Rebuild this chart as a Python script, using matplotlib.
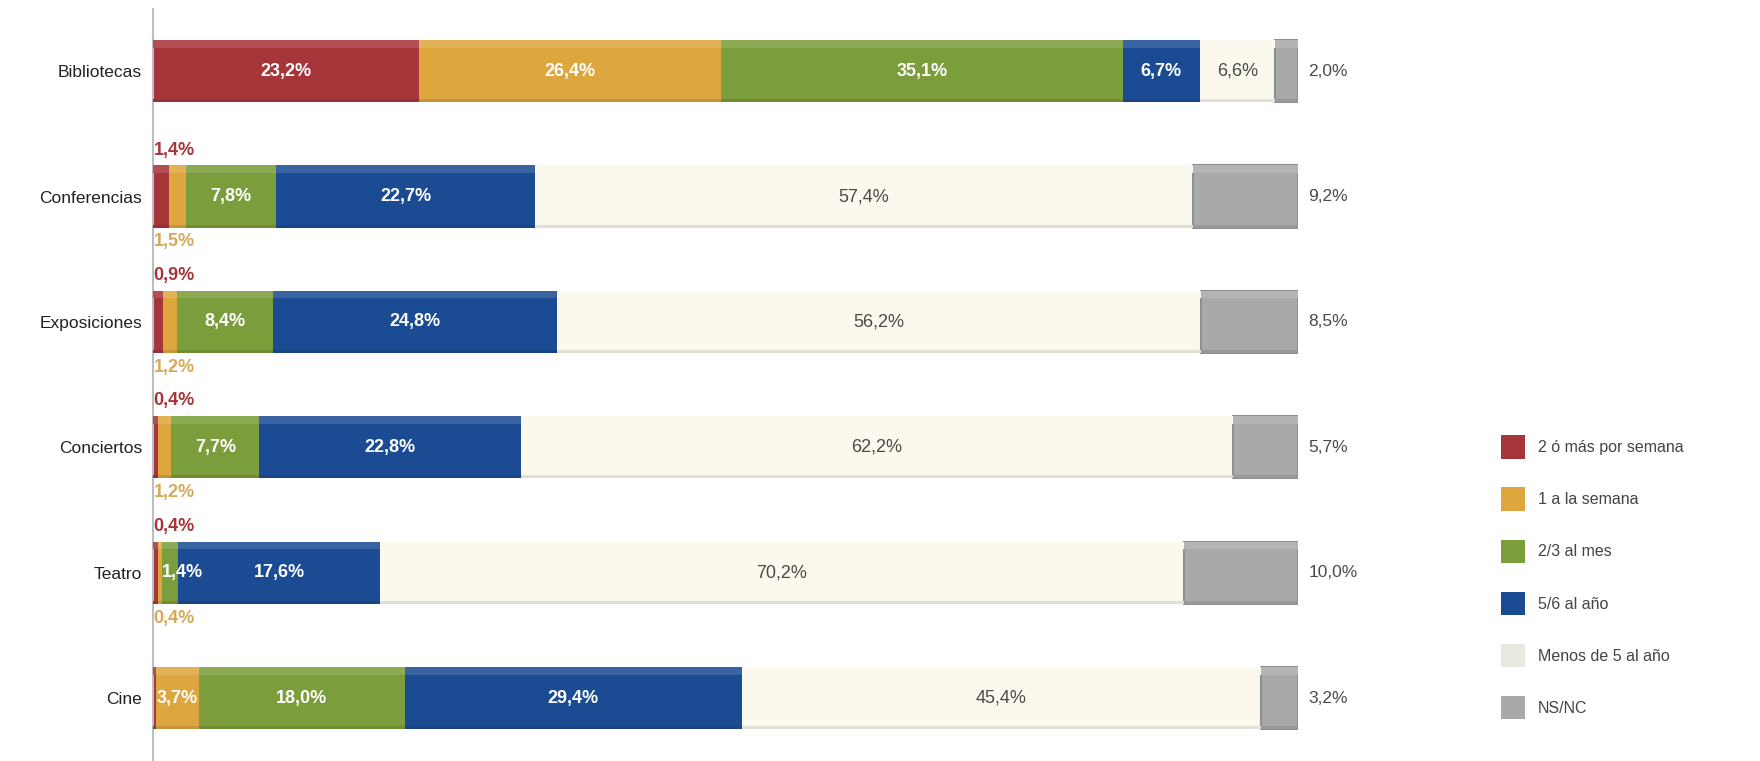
import numpy as np
import matplotlib
matplotlib.use("Agg")
import matplotlib.pyplot as plt
from matplotlib.patches import Patch
from matplotlib.colors import to_rgb

# data (percentages per frequency band)
categorias = ["Bibliotecas", "Conferencias", "Exposiciones", "Conciertos", "Teatro", "Cine"]
series = ["2 ó más por semana", "1 a la semana", "2/3 al mes", "5/6 al año",
          "Menos de 5 al año", "NS/NC"]
dos_o_mas = [23.2, 1.4, 0.9, 0.4, 0.4, 0.3]
una_semana = [26.4, 1.5, 1.2, 1.2, 0.4, 3.7]
dos_tres_mes = [35.1, 7.8, 8.4, 7.7, 1.4, 18.0]
cinco_seis_anyo = [6.7, 22.7, 24.8, 22.8, 17.6, 29.4]
menos_cinco = [6.6, 57.4, 56.2, 62.2, 70.2, 45.4]
ns_nc = [2.0, 9.2, 8.5, 5.7, 10.0, 3.2]

colores = ["#A6353A", "#DDA63F", "#7B9D3B", "#1B4C93", "#FBF9EE", "#A9A9A9"]
legend_colores = ["#A6353A", "#DDA63F", "#7B9D3B", "#1B4C93", "#E8E9DF", "#A9A9A9"]

plt.rcParams['font.family'] = ['Liberation Sans', 'DejaVu Sans']

W, H = 1760, 761
fig = plt.figure(figsize=(W / 100, H / 100), dpi=100)
x0, x1 = 153, 1298
ax = fig.add_axes([x0 / W, 0, (x1 - x0) / W, 752 / H])

datos = np.array([dos_o_mas, una_semana, dos_tres_mes, cinco_seis_anyo, menos_cinco, ns_nc])
y = np.arange(len(categorias))
h = 0.495
left = np.zeros(len(categorias))

def aclarar(c, f):
    r, g, b = to_rgb(c)
    return (r + (1 - r) * f, g + (1 - g) * f, b + (1 - b) * f)

def oscurecer(c, f):
    r, g, b = to_rgb(c)
    return (r * (1 - f), g * (1 - f), b * (1 - f))

for k in range(len(series)):
    vals = datos[k]
    ec = oscurecer(colores[k], 0.15) if k == 5 else "none"
    ax.barh(y, vals, left=left, height=h, color=colores[k], edgecolor=ec, linewidth=1.5, zorder=2)
    # top highlight and bottom shade for a bevelled look
    ax.barh(y - h / 2 + 0.03, vals, left=left, height=0.06,
            color=aclarar(colores[k], 0.13 if k != 4 else 0.0), zorder=3)
    ax.barh(y + h / 2 - 0.012, vals, left=left, height=0.024,
            color=oscurecer(colores[k], 0.10), zorder=3)
    left += vals

# labels
for i in range(len(categorias)):
    starts = np.concatenate([[0], np.cumsum(datos[:, i])[:-1]])
    for k in range(5):
        v = datos[k, i]
        s = f"{v:.1f}%".replace(".", ",")
        if v >= 3:
            col = "white" if k < 4 else "#4a4a4a"
            wt = "bold" if k < 4 else "normal"
            ax.text(starts[k] + v / 2, i, s, ha="center", va="center",
                    color=col, fontsize=13, fontweight=wt, zorder=5)
        elif k == 0 and i > 0 and v >= 0.4:
            ax.text(0.05, i - 0.37, s, ha="left", va="center", color="#A6353A",
                    fontsize=13, fontweight="bold", zorder=5)
        elif k == 1 and v < 3:
            ax.text(0.05, i + 0.36, s, ha="left", va="center", color="#D6A95A",
                    fontsize=13, fontweight="bold", zorder=5)
        elif k == 2 and v < 3:
            ax.text(starts[k], i, s, ha="left", va="center", color="white",
                    fontsize=13, fontweight="bold", zorder=5)
    ax.text(100.9, i, f"{datos[5, i]:.1f}%".replace(".", ","), ha="left", va="center",
            color="#4a4a4a", fontsize=12.5, zorder=5)

ax.set_xlim(0, 100)
ax.set_ylim(5.50, -0.495)
ax.set_yticks(y)
ax.set_yticklabels(categorias, fontsize=12.5, color="#222222")
ax.tick_params(axis="y", length=0, pad=8)
ax.set_xticks([])
for sp in ["top", "right", "bottom"]:
    ax.spines[sp].set_visible(False)
ax.spines["left"].set_color("#bdbdbd")
ax.spines["left"].set_linewidth(1.5)
ax.set_facecolor("none")

handles = [Patch(facecolor=c, edgecolor="none") for c in legend_colores]
fig.legend(handles, series, loc="upper left", bbox_to_anchor=(1487 / W, 1 - 421 / H),
           frameon=False, fontsize=11.5, handlelength=1.45, handleheight=1.9,
           labelspacing=1.78, handletextpad=0.85, labelcolor="#444444")

fig.savefig("out.png", dpi=100)
